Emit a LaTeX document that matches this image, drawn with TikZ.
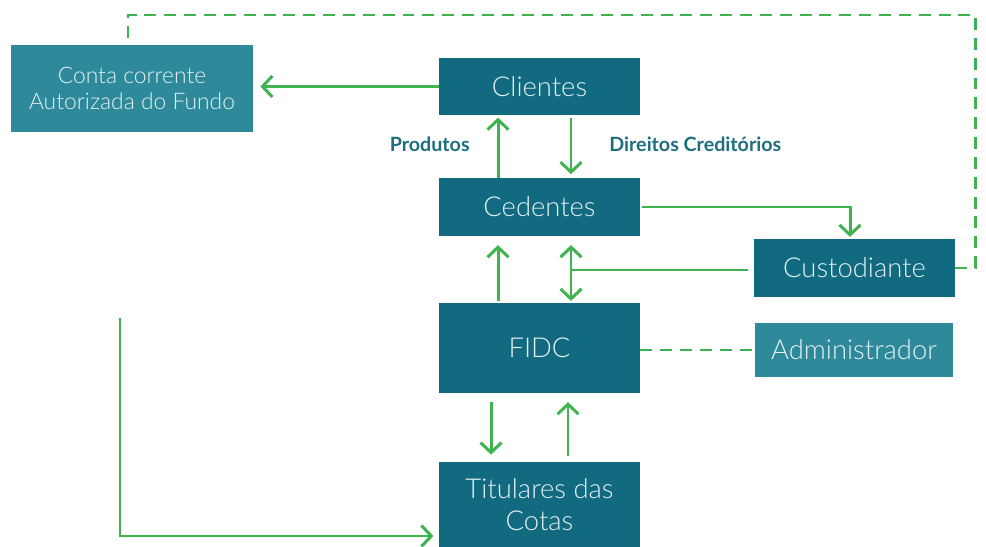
\documentclass[tikz,border=0pt]{standalone}
\usepackage{fontspec}
\setmainfont{Lato}
\newfontfamily\thinfont{Lato Light}
\usetikzlibrary{arrows.meta,calc}
\definecolor{boxdark}{HTML}{126A80}
\definecolor{boxlight}{HTML}{2E8A9B}
\definecolor{flow}{HTML}{3FB34F}
\definecolor{boxtext}{HTML}{E4F1F2}
\definecolor{labeltext}{HTML}{1F6E80}
\begin{document}
\begin{tikzpicture}[x=0.02cm,y=-0.02cm,
    box/.style={fill=boxdark,text=boxtext,inner sep=0pt,align=center,
      minimum width=4.02cm,minimum height=1.16cm,
      font=\thinfont\fontsize{15.6}{18}\selectfont},
    lightbox/.style={box,fill=boxlight},
    flowlabel/.style={text=labeltext,inner sep=0pt,font=\bfseries\fontsize{11.2}{13}\selectfont},
    arr/.style={draw=flow,line width=1.7pt,-{Straight Barb[length=0.2cm,width=0.42cm,line width=1.7pt]}},
    dashline/.style={draw=flow,line width=1.7pt,dash pattern=on 6.8pt off 4.5pt}]
  \useasboundingbox (0,0) rectangle (986,547);
  \node[lightbox,minimum width=4.84cm,minimum height=1.74cm,
    font=\thinfont\fontsize{13}{15}\selectfont] (conta) at (132,88.5) {Conta corrente\\Autorizada do Fundo};
  \node[box] (clientes) at (539.5,86.5) {Clientes};
  \node[box] (cedentes) at (539.5,207) {Cedentes};
  \node[box] (custodiante) at (854.5,268) {Custodiante};
  \node[box,minimum height=1.8cm] (fidc) at (539.5,348) {FIDC};
  \node[lightbox,minimum width=3.96cm,minimum height=1.08cm] (admin) at (854,350) {Administrador};
  \node[box,minimum height=1.7cm] (titulares) at (539.5,504.5) {Titulares das\\Cotas};
  \node[flowlabel,anchor=east] (produtos) at (470,144) {Produtos};
  \node[flowlabel,anchor=west] (direitos) at (609,144) {Direitos Creditórios};
  \coordinate (top) at (128,15);
  \coordinate (start) at (120,318);
  \begin{scope}
    \draw[arr,shorten >=4pt] (clientes.west) -- (clientes.west -| conta.east);
    \draw[arr,shorten >=1pt] ([xshift=-0.83cm]cedentes.north) -- ([xshift=-0.83cm]clientes.south);
    \draw[arr,shorten <=1pt,shorten >=2pt] ([xshift=0.63cm]clientes.south) -- ([xshift=0.63cm]cedentes.north);
    \draw[arr,shorten <=1pt,shorten >=1pt] (cedentes.east) -| ([xshift=-0.09cm]custodiante.north);
    \draw[arr,shorten <=1pt,shorten >=5pt] ([xshift=-0.83cm]fidc.north) -- ([xshift=-0.83cm]cedentes.south);
    \draw[arr,{Straight Barb[length=0.2cm,width=0.42cm,line width=1.7pt]}-{Straight Barb[length=0.2cm,width=0.42cm,line width=1.7pt]},shorten <=5pt,shorten >=1pt]
      ([xshift=0.63cm]cedentes.south) -- ([xshift=0.63cm]fidc.north);
    \draw[draw=flow,line width=1.7pt,shorten <=3pt] ([yshift=-0.04cm]custodiante.west) -- ([yshift=-0.04cm]custodiante.west -| {$(cedentes.south)+(0.63cm,0)$});
    \draw[arr,shorten <=5pt,shorten >=4pt] ([xshift=-0.97cm]fidc.south) -- ([xshift=-0.97cm]titulares.north);
    \draw[arr,shorten <=3pt,shorten >=5pt] ([xshift=0.57cm]titulares.north) -- ([xshift=0.57cm]fidc.south);
    \draw[arr,shorten >=3pt] (start) |- ([yshift=-0.63cm]titulares.west);
    \draw[dashline] (admin.west -| fidc.east) -- (admin.west);
    \draw[dashline] (custodiante.east) -- ++(20,0) |- (top) -- (top |- conta.north);
  \end{scope}
\end{tikzpicture}
\end{document}
